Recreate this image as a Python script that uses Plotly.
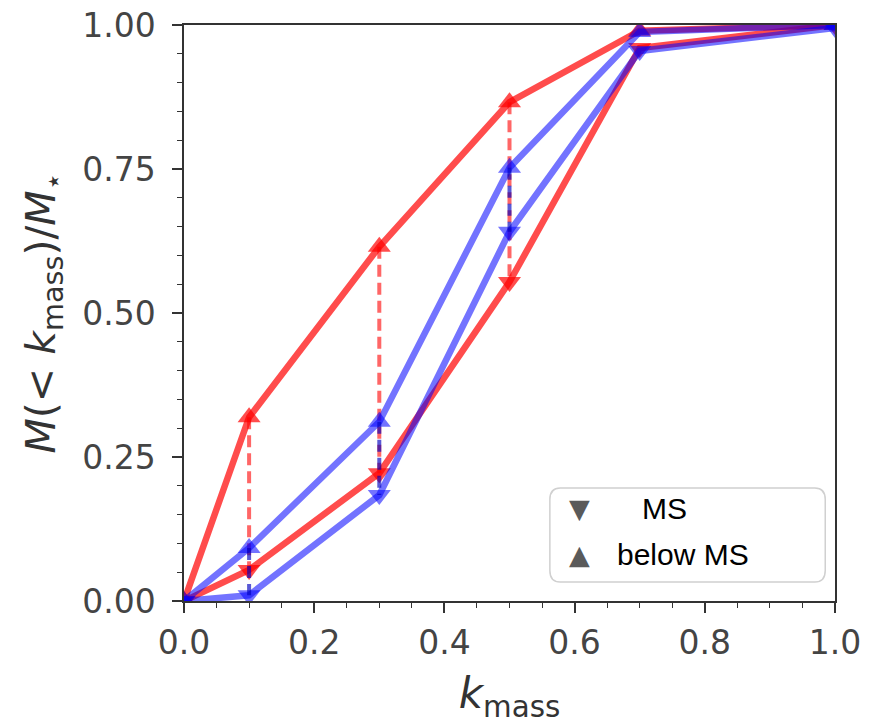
import plotly.graph_objects as go

# Cumulative mass fraction M(<k_mass)/M* for two samples (red, blue),
# split into main-sequence (MS) and below-MS galaxies.
k_mass = [0.0, 0.1, 0.3, 0.5, 0.7, 1.0]

red_ms = [0.0, 0.054, 0.222, 0.554, 0.960, 1.0]
red_below = [0.0, 0.319, 0.615, 0.866, 0.990, 1.0]
blue_ms = [0.0, 0.010, 0.184, 0.641, 0.955, 0.995]
blue_below = [0.0, 0.092, 0.311, 0.752, 0.988, 1.0]

# k_mass values where the MS / below-MS pair is joined by a dashed segment
joined_k = [0.1, 0.3, 0.5]

legend_labels = ["MS", "below MS"]

RED = "rgba(255,0,0,0.7)"
BLUE = "rgba(0,0,255,0.55)"
RED_DASH = "rgba(255,0,0,0.6)"
BLUE_DASH = "rgba(0,0,190,0.65)"


def pair_segments(xs, lo, hi):
    """Vertical segments joining lo/hi values at the chosen xs."""
    sx, sy = [], []
    for xv in xs:
        i = k_mass.index(xv)
        sx += [xv, xv, None]
        sy += [hi[i], lo[i], None]
    return sx, sy


fig = go.Figure()

for ms, below, col, dcol in [(red_ms, red_below, RED, RED_DASH),
                             (blue_ms, blue_below, BLUE, BLUE_DASH)]:
    fig.add_trace(go.Scatter(
        x=k_mass, y=ms, mode="lines+markers",
        line=dict(color=col, width=6.5),
        marker=dict(symbol="triangle-down", size=20, color=col),
        showlegend=False))
    fig.add_trace(go.Scatter(
        x=k_mass, y=below, mode="lines+markers",
        line=dict(color=col, width=6.5),
        marker=dict(symbol="triangle-up", size=20, color=col),
        showlegend=False))
    sx, sy = pair_segments(joined_k, ms, below)
    fig.add_trace(go.Scatter(
        x=sx, y=sy, mode="lines",
        line=dict(color=dcol, width=4, dash="12px,6px"),
        showlegend=False))

tick_font = dict(family="DejaVu Sans", size=33, color="#444444")
axis_common = dict(
    showline=True, linecolor="#333333", linewidth=1.5, mirror=True,
    ticks="outside", ticklen=10, tickwidth=1.5, tickcolor="#333333",
    showgrid=False, zeroline=False, tickfont=tick_font, automargin=False,
)

fig.update_xaxes(
    range=[0, 1], dtick=0.2, tickformat=".1f", ticklabelstandoff=2,
    minor=dict(dtick=0.05, ticks="outside", ticklen=5, tickwidth=1.2,
               tickcolor="#333333", showgrid=False),
    title=dict(text="<i>k</i><sub>mass</sub>",
               font=dict(family="DejaVu Sans", size=42, color="#333333"),
               standoff=18),
    **axis_common)
fig.update_yaxes(
    range=[0, 1], dtick=0.25, tickformat=".2f", ticklabelstandoff=10,
    minor=dict(dtick=0.05, ticks="outside", ticklen=5, tickwidth=1.2,
               tickcolor="#333333", showgrid=False),
    title=dict(text="<i>M</i>(&lt; <i>k</i><sub>mass</sub>)/<i>M</i><sub>⋆</sub>",
               font=dict(family="DejaVu Sans", size=41, color="#333333"),
               standoff=14),
    **axis_common)

# Legend: rounded frame with marker glyphs and labels
fig.add_shape(
    type="path", xref="paper", yref="paper",
    path=("M 0.578,0.196 L 0.969,0.196 Q 0.985,0.196 0.985,0.176 "
          "L 0.985,0.053 Q 0.985,0.033 0.969,0.033 L 0.578,0.033 "
          "Q 0.562,0.033 0.562,0.053 L 0.562,0.176 Q 0.562,0.196 0.578,0.196 Z"),
    line=dict(color="#d0d0d0", width=1.5), fillcolor="white", layer="above")

for sym, label, yy, pad in [("▼", legend_labels[0], 0.161, "&nbsp;&nbsp;&nbsp;"),
                            ("▲", legend_labels[1], 0.080, "")]:
    fig.add_annotation(x=0.607, y=yy, xref="paper", yref="paper",
                       xanchor="center", yanchor="middle",
                       text=sym, showarrow=False,
                       font=dict(family="DejaVu Sans", size=27, color="#5a5a5a"))
    fig.add_annotation(x=0.662, y=yy, xref="paper", yref="paper",
                       xanchor="left", yanchor="middle",
                       text=pad + label, showarrow=False,
                       font=dict(family="Liberation Sans", size=30, color="black"))

fig.update_layout(
    width=870, height=724,
    margin=dict(l=184, r=35, t=25, b=123),
    plot_bgcolor="white", paper_bgcolor="white",
    showlegend=False,
)

fig.write_html("out.html")
